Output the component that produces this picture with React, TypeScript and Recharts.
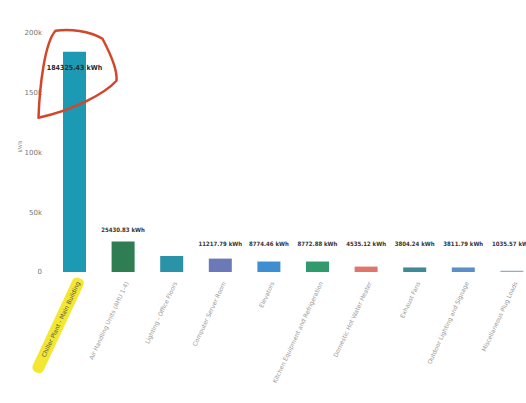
import React from 'react';
import { BarChart, Bar, XAxis, YAxis, Cell } from 'recharts';

const categories = [
  'Chiller Plant - Main Building',
  'Air Handling Units (AHU 1-4)',
  'Lighting - Office Floors',
  'Computer Server Room',
  'Elevators',
  'Kitchen Equipment and Refrigeration',
  'Domestic Hot Water Heater',
  'Exhaust Fans',
  'Outdoor Lighting and Signage',
  'Miscellaneous Plug Loads',
];
const consumption = [184325.43, 25430.83, 13386.52, 11217.79, 8774.46, 8772.88, 4535.12, 3804.24, 3811.79, 1035.57];
const barColors = ['#1c9ab4', '#2f7d52', '#2a93a8', '#6c79b8', '#3d8fd1', '#2f9a6c', '#e0766a', '#3f8a96', '#5a8fc8', '#8fb0c0'];
const hiddenLabels = [2];
const yTicks = [0, 50000, 100000, 150000, 200000];

const data = categories.map((name, i) => ({ name, value: consumption[i] }));

const labelFont = 'DejaVu Sans Condensed, DejaVu Sans, sans-serif';

const renderLabel = (props: any) => {
  const { x, y, width, height, value, index } = props;
  if (hiddenLabels.includes(index)) return null;
  const cx = x + width / 2;
  const text = `${Number(value).toFixed(2)} kWh`;
  if (index === 0) {
    const cy = y + 16;
    return (
      <g>
        <text x={cx} y={cy} dy="0.35em" textAnchor="middle" fontSize={7} fontWeight={700} fill="#2a2a2a" fontFamily={labelFont}>
          {text}
        </text>
        <path
          transform={`translate(${cx},${cy})`}
          d="M -36 50 C -35 20, -30 -25, -19 -37 C -5 -39, 15 -37, 28 -29 C 37 -12, 43 4, 42 13 C 30 26, 0 42, -36 50"
          fill="none"
          stroke="#d4462a"
          strokeWidth={2.5}
          strokeLinecap="round"
        />
      </g>
    );
  }
  const base = y + height;
  const ty = Math.min(y - 12, base - 28);
  return (
    <text x={cx} y={ty} dy="0.35em" textAnchor="middle" fontSize={6} fontWeight={700} fill="#333" fontFamily={labelFont}>
      {text}
    </text>
  );
};

const renderTick = (props: any) => {
  const { x, y, payload, index } = props;
  const label = String(payload.value);
  const w = label.length * 3.3;
  return (
    <g transform={`translate(${x + 4},${y + 2})`}>
      <g transform="rotate(-65)">
        {index === 0 && <rect x={-w - 4} y={-6} width={w + 8} height={12} rx={5} fill="#f1e51c" opacity={0.9} />}
        <text x={0} y={0} dy="0.35em" textAnchor="end" fontSize={6} fill={index === 0 ? '#555' : '#999'} fontFamily="DejaVu Sans, sans-serif">
          {label}
        </text>
      </g>
    </g>
  );
};

const fmtY = (v: number) => (v === 0 ? '0' : `${v / 1000}k`);

export default function App() {
  return (
    <div style={{ position: 'absolute', left: 0, top: 0, width: 526, height: 403, overflow: 'hidden', background: '#fff' }}>
      <BarChart width={546} height={403} data={data} margin={{ top: 33, right: 10, bottom: 0, left: 0 }}>
        <YAxis
          width={50}
          domain={[0, 200000]}
          ticks={yTicks}
          tickFormatter={fmtY}
          axisLine={false}
          tickLine={false}
          tick={{ fontSize: 7, fill: '#777', fontFamily: 'DejaVu Sans, sans-serif' }}
          label={{ value: 'kWh', angle: -90, position: 'insideLeft', offset: 20, fontSize: 6, fill: '#888' }}
        />
        <XAxis dataKey="name" height={131} interval={0} axisLine={false} tickLine={false} tick={renderTick} />
        <Bar dataKey="value" barSize={23} isAnimationActive={false} label={renderLabel}>
          {data.map((d, i) => (
            <Cell key={d.name} fill={barColors[i]} />
          ))}
        </Bar>
      </BarChart>
    </div>
  );
}
